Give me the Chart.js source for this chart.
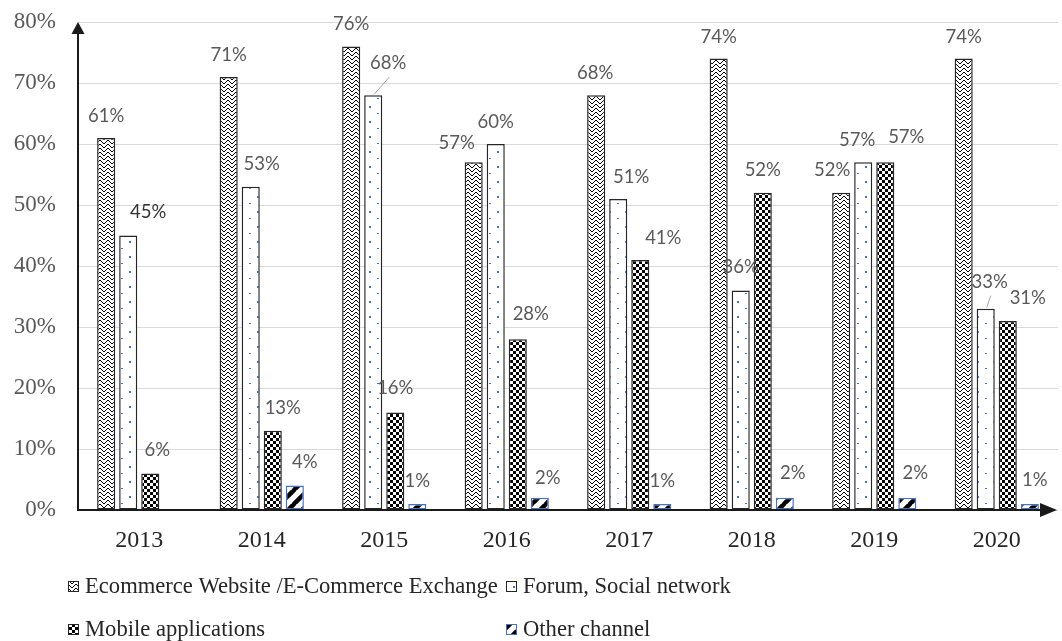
<!DOCTYPE html>
<html>
<head>
<meta charset="utf-8">
<script src="https://cdn.jsdelivr.net/npm/chart.js@4.4.1/dist/chart.umd.min.js"></script>
<style>
  html, body { margin: 0; padding: 0; background: #fff; }
  canvas { display: block; }
</style>
</head>
<body>
<canvas id="c" width="1062" height="641"></canvas>
<script>
// ---- data ----
const years = ['2013', '2014', '2015', '2016', '2017', '2018', '2019', '2020'];
const ecommerce = [61, 71, 76, 57, 68, 74, 52, 74];
const forum     = [45, 53, 68, 60, 51, 36, 57, 33];
const mobile    = [6, 13, 16, 28, 41, 52, 57, 31];
const other     = [null, 4, 1, 2, 1, 2, 2, 1];
const seriesNames = [
  'Ecommerce Website /E-Commerce Exchange',
  'Forum, Social network',
  'Mobile applications',
  'Other channel'
];
const yTickValues = [0, 10, 20, 30, 40, 50, 60, 70, 80];

// ---- fill patterns ----
const mainCtx = document.getElementById('c').getContext('2d');
function makePattern(w, h, draw) {
  const t = document.createElement('canvas');
  t.width = w; t.height = h;
  const g = t.getContext('2d');
  g.fillStyle = '#fff';
  g.fillRect(0, 0, w, h);
  draw(g, w, h);
  return mainCtx.createPattern(t, 'repeat');
}
// chevron zigzag rows
const zigzag = makePattern(8, 4, (g) => {
  g.fillStyle = '#000';
  for (let r = 0; r < 4; r++) {
    g.fillRect(3 - r, r, 1, 1);
    g.fillRect(4 + r, r, 1, 1);
  }
});
// sparse blue dots
const dots = makePattern(16, 15, (g) => {
  g.fillStyle = '#4472C4';
  g.fillRect(1, 1, 2, 2);
  g.fillRect(9, 8, 2, 1);
});
// checkerboard
const checker = makePattern(6, 6, (g) => {
  g.fillStyle = '#000';
  g.fillRect(0, 0, 3, 3);
  g.fillRect(3, 3, 3, 3);
});
// wide diagonal stripes
const stripes = makePattern(14, 14, (g) => {
  g.strokeStyle = '#000';
  g.lineWidth = 4.5;
  [0, 14, 28].forEach(c => {
    g.beginPath();
    g.moveTo(c + 1, -1);
    g.lineTo(c - 15, 15);
    g.stroke();
  });
});

const fills   = [zigzag, dots, checker, stripes];
const borders = ['#262626', '#262626', '#262626', '#4472C4'];
const values  = [ecommerce, forum, mobile, other];

// value label nudges [series][year] = [dx, dy, leader]
const labelNudge = [
  [[0,-22],[0,-22],[0,-22],[-17,-19],[-1,-22],[0,-22],[-9,-23],[0,-22]],
  [[20,-23],[11,-23],[15,-32,true],[0,-22],[13,-22],[0,-23],[-6,-22],[4,-27,true]],
  [[7,-23],[10,-23],[0,-24],[13,-25],[23,-22],[0,-23],[21,-25],[20,-23]],
  [[0,-23],[10,-24],[0,-23],[8,-20],[0,-23],[8,-25],[8,-25],[5,-24]]
];

const valueLabels = {
  id: 'valueLabels',
  afterDatasetsDraw(chart) {
    const ctx = chart.ctx;
    ctx.save();
    ctx.font = '18.5px Lato';
    ctx.textAlign = 'center';
    ctx.textBaseline = 'middle';
    chart.data.datasets.forEach((ds, i) => {
      const meta = chart.getDatasetMeta(i);
      meta.data.forEach((bar, j) => {
        const v = ds.data[j];
        if (v === null || v === undefined) return;
        const [dx, dy, leader] = labelNudge[i][j];
        const lx = bar.x + dx, ly = bar.y + dy;
        if (leader) {
          ctx.strokeStyle = '#a6a6a6';
          ctx.lineWidth = 1;
          ctx.beginPath();
          ctx.moveTo(lx + 1, ly + 14);
          ctx.lineTo(bar.x + 1, bar.y - 1);
          ctx.stroke();
        }
        ctx.fillStyle = (i === 1 && j === 0) ? '#333333' : '#595959';
        ctx.fillText(v + '%', lx, ly);
      });
    });
    ctx.restore();
  }
};

const axisArrows = {
  id: 'axisArrows',
  afterDatasetsDraw(chart) {
    const { ctx, chartArea: a } = chart;
    ctx.save();
    ctx.strokeStyle = '#1a1a1a';
    ctx.fillStyle = '#1a1a1a';
    ctx.lineWidth = 2;
    // vertical axis
    ctx.beginPath();
    ctx.moveTo(a.left, a.bottom);
    ctx.lineTo(a.left, a.top + 10);
    ctx.stroke();
    ctx.beginPath();
    ctx.moveTo(a.left, a.top);
    ctx.lineTo(a.left - 6.5, a.top + 12);
    ctx.lineTo(a.left + 6.5, a.top + 12);
    ctx.closePath();
    ctx.fill();
    // horizontal axis
    ctx.beginPath();
    ctx.moveTo(a.left - 1, a.bottom);
    ctx.lineTo(a.right - 14, a.bottom);
    ctx.stroke();
    ctx.beginPath();
    ctx.moveTo(a.right - 1, a.bottom);
    ctx.lineTo(a.right - 18, a.bottom - 7);
    ctx.lineTo(a.right - 18, a.bottom + 7);
    ctx.closePath();
    ctx.fill();
    ctx.restore();
  }
};

const legendBlock = {
  id: 'legendBlock',
  afterDraw(chart) {
    const ctx = chart.ctx;
    const spots = [[68, 586], [506, 586], [68, 629], [506, 629]];
    ctx.save();
    ctx.font = '22.6px "Liberation Serif"';
    ctx.textBaseline = 'middle';
    ctx.textAlign = 'left';
    spots.forEach(([x, y], i) => {
      ctx.fillStyle = fills[i];
      ctx.fillRect(x, y - 5, 10, 10);
      ctx.strokeStyle = borders[i];
      ctx.lineWidth = 1;
      ctx.strokeRect(x + 0.5, y - 4.5, 10, 10);
      ctx.fillStyle = '#262626';
      ctx.fillText(seriesNames[i], x + 17, y + 1);
    });
    ctx.restore();
  }
};

function build() {
  new Chart(document.getElementById('c'), {
    type: 'bar',
    data: {
      labels: years,
      datasets: values.map((arr, i) => ({
        label: seriesNames[i],
        data: arr,
        backgroundColor: fills[i],
        borderColor: borders[i],
        borderWidth: 1.5,
        borderSkipped: false,
        barPercentage: 0.82,
        categoryPercentage: 0.72
      }))
    },
    options: {
      responsive: false,
      animation: false,
      events: [],
      layout: { padding: { top: 22, right: 4, left: 0, bottom: 0 } },
      plugins: { legend: { display: false }, tooltip: { enabled: false } },
      scales: {
        x: {
          grid: { display: false },
          border: { display: false },
          ticks: {
            color: '#262626',
            font: { family: '"Liberation Serif"', size: 24 },
            padding: 8
          },
          afterFit(s) { s.height = 131; s.paddingLeft = 0; s.paddingRight = 0; }
        },
        y: {
          min: 0,
          max: 80,
          afterBuildTicks(s) { s.ticks = yTickValues.map(v => ({ value: v })); },
          grid: { color: '#d9d9d9', lineWidth: 1, drawTicks: false },
          border: { display: false },
          ticks: {
            color: '#595959',
            font: { family: '"Liberation Serif"', size: 23 },
            padding: 22,
            callback: v => v + '%'
          },
          afterFit(s) { s.width = 78; s.paddingTop = 0; s.paddingBottom = 0; }
        }
      }
    },
    plugins: [valueLabels, axisArrows, legendBlock]
  });
}

Promise.all([
  document.fonts.load('18px Lato'),
  document.fonts.load('24px "Liberation Serif"')
]).then(build, build);
</script>
</body>
</html>
